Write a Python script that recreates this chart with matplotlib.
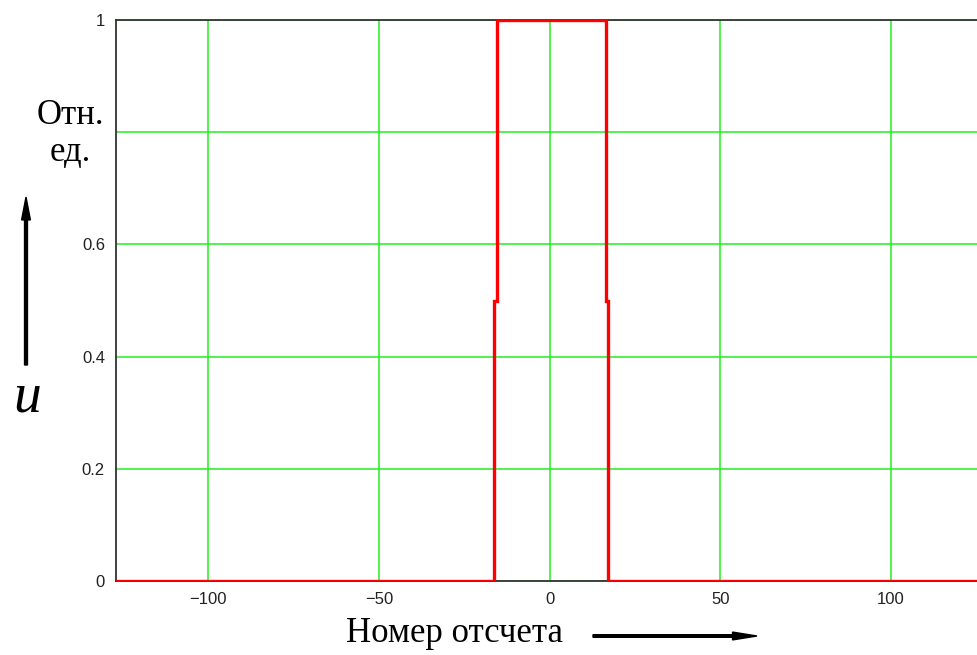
import matplotlib.pyplot as plt
from matplotlib.patches import FancyArrow

# Rectangular pulse (sample index vs relative units)
sample_x = [-127, -16.2, -16.2, -15.5, -15.5, 16.5, 16.5, 17.2, 17.2, 127]
signal_u = [0, 0, 0.5, 0.5, 1, 1, 0.5, 0.5, 0, 0]

x_ticks = [-100, -50, 0, 50, 100]
x_tick_labels = ['\u2212100', '\u221250', '0', '50', '100']
y_ticks = [0, 0.2, 0.4, 0.6, 0.8, 1]
y_tick_labels = ['0', '0.2', '0.4', '0.6', '', '1']

plt.rcParams['font.family'] = ['Liberation Serif', 'DejaVu Serif']

fig = plt.figure(figsize=(9.77, 6.55), dpi=100)
ax = fig.add_axes([116 / 977, 1 - 581 / 655, (983 - 116) / 977, (581 - 20) / 655])

ax.plot(sample_x, signal_u, color='#ff0000', lw=2.4, solid_joinstyle='miter', zorder=3)

ax.set_xlim(-127, 127)
ax.set_ylim(0, 1)
ax.set_xticks(x_ticks)
ax.set_xticklabels(x_tick_labels)
ax.set_yticks(y_ticks)
ax.set_yticklabels(y_tick_labels)
for lbl in ax.get_xticklabels() + ax.get_yticklabels():
    lbl.set_family(['Liberation Sans', 'DejaVu Sans'])
ax.tick_params(length=0, labelsize=12, pad=8, colors='#222222')
ax.grid(True, color='#22ee22', lw=1.1)

for side in ['left', 'top', 'bottom']:
    ax.spines[side].set_color('#333333')
    ax.spines[side].set_linewidth(1.3)
ax.spines['right'].set_visible(False)

# axis captions and arrows in figure pixels
fig.text(70 / 977, 1 - 134 / 655, 'Отн.\nед.', ha='center', va='center',
         fontsize=25, linespacing=1.15)
fig.text(27 / 977, 1 - 398 / 655, 'u', ha='center', va='center',
         fontsize=40, style='italic')
fig.text(455 / 977, 1 - 634 / 655, 'Номер отсчета', ha='center', va='center',
         fontsize=25)
fig.patches.append(FancyArrow(
    26 / 977, 1 - 365 / 655, 0, (365 - 197) / 655, width=0.003,
    head_width=0.009, head_length=0.035, length_includes_head=True,
    color='black', transform=fig.transFigure, figure=fig))
fig.patches.append(FancyArrow(
    593 / 977, 1 - 636 / 655, (757 - 593) / 977, 0, width=0.004,
    head_width=0.012, head_length=0.025, length_includes_head=True,
    color='black', transform=fig.transFigure, figure=fig))

fig.savefig('out.png', dpi=100)
